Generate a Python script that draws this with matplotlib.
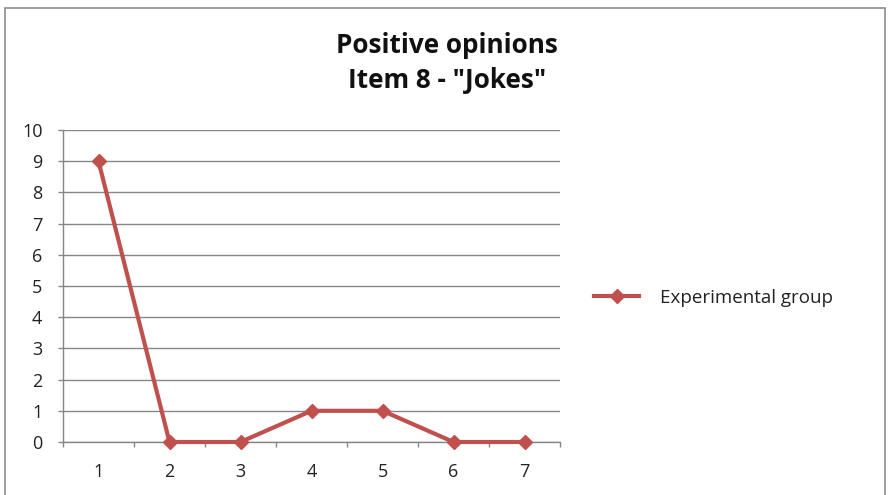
import numpy as np
import matplotlib.pyplot as plt
from matplotlib.patches import Rectangle
from matplotlib.lines import Line2D

plt.rcParams['font.family'] = ['Open Sans', 'DejaVu Sans']

categories = ['1', '2', '3', '4', '5', '6', '7']
experimental = [9, 0, 0, 1, 1, 0, 0]
series_name = 'Experimental group'
title_lines = ['Positive opinions', 'Item 8 - "Jokes"']

red = '#C0504D'
grey = '#868686'
text_col = '#222222'

fig = plt.figure(figsize=(8.91, 4.95), dpi=100)
ax = fig.add_axes([63 / 891, 1 - 442 / 495, 497 / 891, 312 / 495])

x = np.arange(1, len(categories) + 1)
ax.plot(x, experimental, color=red, lw=3, marker='D', ms=7.5,
        markeredgecolor=red, markerfacecolor=red, zorder=3, clip_on=False)

ax.set_xlim(0.5, len(categories) + 0.5)
ax.set_ylim(0, 10)
ax.set_yticks(range(0, 11))
ax.yaxis.grid(True, color=grey, lw=1)
ax.set_axisbelow(True)

# category labels centred, tick marks between categories
ax.set_xticks(x)
ax.set_xticklabels(categories)
ax.set_xticks(np.arange(0.5, len(categories) + 1), minor=True)
ax.tick_params(axis='x', which='major', length=0, pad=15, labelsize=13, labelcolor=text_col)
ax.tick_params(axis='x', which='minor', length=3.8, color=grey, width=1)
ax.tick_params(axis='y', length=3.8, color=grey, width=1, labelsize=13,
               labelcolor=text_col, pad=11)

for side in ['top', 'right']:
    ax.spines[side].set_visible(False)
for side in ['left', 'bottom']:
    ax.spines[side].set_color(grey)
    ax.spines[side].set_linewidth(1)

# two-line bold title
for line, base_y in zip(title_lines, [53, 88]):
    fig.text(447 / 891, 1 - base_y / 495, line, ha='center', va='baseline',
             fontsize=18.8, fontweight='bold', color='#111111')

handle = Line2D([], [], color=red, lw=3, marker='D', ms=7,
                markeredgecolor=red, markerfacecolor=red)
fig.legend([handle], [series_name], loc='center left',
           bbox_to_anchor=(585 / 891, 1 - 298 / 495), frameon=False,
           fontsize=13.5, handlelength=2.4, handletextpad=1.1, borderpad=0,
           labelcolor=text_col)

# outer chart frame
fig.patches.append(Rectangle((5 / 891, -0.05), 880 / 891, 1.05 - 8 / 495,
                             transform=fig.transFigure, fill=False,
                             edgecolor='#8c8c8c', lw=1.2))

fig.savefig('out.png', dpi=100)
